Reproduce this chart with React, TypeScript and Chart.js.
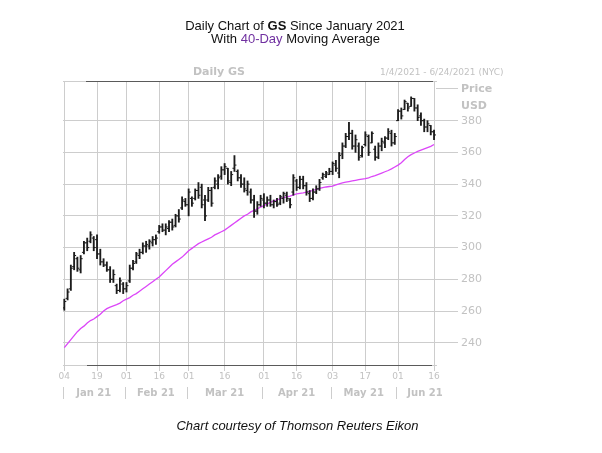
import React, { useEffect, useRef } from "react";
import { Chart, registerables } from "chart.js";

Chart.register(...registerables);

// ---- data (trading-day index 0 = 4 Jan 2021) ----
const OPEN = [262,268,274,288,293,286,297,303,304,306,305,296,291,289,286,280,276,273,277,274,279,287,291,295,297,301,301,303,305,310,313,311,312,316,314,320,325,329,327,331,331,336,338,330,330,336,338,340,345,349,350,341,350,348,344,340,336,335,330,323,327,330,328,330,327,329,328,331,333,330,335,342,338,343,339,334,331,335,337,344,345,346,348,352,347,359,364,370,372,364,364,358,365,370,366,362,357,364,366,369,372,366,380,386,387,391,389,394,388,383,380,376,377,373];
const HIGH = [267.5,274,289,297,294,295,304,306,310,307,308,299,293,291,288,286,277,281,278,278,289,292,297,299,303,304,305,307,308,314,315,315,317,318,321,324,332,331,337,332,337,341,340,333,338,338,344,346,351,353,350,348,358,349,346,344,342,337,333,329,333,334,332,333,330,331,333,335,335,331,346,343,345,345,341,336,337,339,343,347,348,350,354,355,360,366,372,379,374,371,366,364,373,371,373,364,366,369,370,375,374,372,387,388,393,391,395,394,390,385,381,380,377,374];
const LOW = [260.5,267,273,286,285,284,296,298,303,298,293,289,288,285,278,278,271,272,271,272,278,286,290,293,296,297,299,301,302,309,310,308,310,311,313,316,324,326,320,326,330,331,325,317,329,326,337,337,343,346,340,339,348,342,338,335,333,328,319,321,326,325,326,326,325,326,327,328,329,325,333,336,337,337,333,329,330,334,336,343,344,346,346,348,344,356,363,368,362,360,355,357,364,358,366,355,356,361,363,368,364,365,380,381,387,386,389,386,380,377,373,373,371,368];
const CLOSE = [266,272,287,295,287,293,303,300,308,300,296,291,289,286,280,283,273,279,274,276,287,290,296,297,301,302,304,305,306,313,311,313,316,313,320,318,330,327,335,328,336,333,327,320,336,328,342,344,349,351,342,346,352,344,340,337,340,330,323,327,331,328,330,327,329,327,332,334,331,327,344,338,343,339,335,331,335,337,341,346,347,348,353,350,358,364,370,372,364,368,357,363,371,360,372,357,364,367,369,373,366,370,386,383,392,388,394,388,382,380,376,378,373,371];
const MA40 = [237,239.5,242,244.5,247,249,250.5,252.5,254,255,256.5,258,260,261.5,262.5,263.3,264,265,266.5,267.5,268.5,270,271,272.5,274,275.5,277,278.5,280,281.5,283.5,285.5,287.5,289.5,291,292.5,294,296,298,299.5,301,302.5,303.5,304.5,305.5,306.5,308,309,310,311,312.5,314,315.5,317,318.5,320,321,322.5,323.5,324.5,325.5,326.5,327.5,328.5,329.5,330,330.8,331.5,332,332.5,333.2,333.8,334.2,334.5,335,335.5,336,336.7,337.3,337.8,338.2,338.5,338.8,339.5,340.2,340.8,341.2,341.6,342,342.4,342.8,343.2,343.5,344,344.8,345.4,346.2,347,347.8,348.6,349.6,350.8,352,353.5,355.5,357.3,358.6,359.6,360.6,361.4,362.2,363,363.8,365];

const X_TICK_IDX = [0, 10, 19, 29, 38, 49, 61, 71, 82, 92, 102, 113];
const X_TICK_LABELS = ["04", "19", "01", "16", "01", "16", "01", "16", "03", "17", "01", "16"];
const MONTH_LABELS = ["Jan 21", "Feb 21", "Mar 21", "Apr 21", "May 21", "Jun 21"];
const MONTH_START_IDX = [0, 19, 38, 61, 82, 102, 121];
const Y_TICKS = [240, 260, 280, 300, 320, 340, 360, 380, 400];

const GRID = "#cdcdcd";
const LABEL = "#c2c2c2";
const DARK = "#5a5a5a";
const BAR = "#1c1c1c";
const MA_COLOR = "#dc46f8";
const SANS = '"DejaVu Sans"';
const ARIAL = '"Liberation Sans", Arial';

function drawRuns(ctx: CanvasRenderingContext2D, runs: { t: string; font: string; color: string }[], cx: number, y: number) {
  let total = 0;
  for (const r of runs) { ctx.font = r.font; total += ctx.measureText(r.t).width; }
  let x = cx - total / 2;
  ctx.textAlign = "left";
  ctx.textBaseline = "alphabetic";
  for (const r of runs) {
    ctx.font = r.font; ctx.fillStyle = r.color;
    ctx.fillText(r.t, x, y);
    x += ctx.measureText(r.t).width;
  }
}

const decor = {
  id: "decor",
  afterDraw(chart: any) {
    const { ctx, chartArea: a, scales } = chart;
    const x = scales.x;
    ctx.save();
    ctx.lineWidth = 1;
    ctx.strokeStyle = GRID;
    ctx.beginPath();
    ctx.moveTo(a.left, Math.round(a.top) + 0.5); ctx.lineTo(a.right + 1, Math.round(a.top) + 0.5);
    ctx.moveTo(a.left, Math.round(a.bottom) + 0.5); ctx.lineTo(a.right + 1, Math.round(a.bottom) + 0.5);
    ctx.stroke();
    ctx.strokeStyle = DARK;
    ctx.beginPath();
    ctx.moveTo(86, Math.round(a.top) + 0.5); ctx.lineTo(433, Math.round(a.top) + 0.5);
    ctx.moveTo(87, Math.round(a.bottom) + 0.5); ctx.lineTo(432, Math.round(a.bottom) + 0.5);
    ctx.stroke();

    // header
    ctx.fillStyle = LABEL;
    ctx.textBaseline = "alphabetic";
    ctx.textAlign = "center";
    ctx.font = `bold 11px ${SANS}`;
    ctx.fillText("Daily GS", 219, 75);
    ctx.textAlign = "left";
    ctx.font = `9px ${SANS}`;
    ctx.fillText("1/4/2021 - 6/24/2021 (NYC)", 380, 75);
    ctx.font = `bold 11px ${SANS}`;
    ctx.textBaseline = "middle";
    ctx.fillText("USD", 461, 106);

    // month labels + separators
    ctx.strokeStyle = GRID;
    ctx.fillStyle = LABEL;
    ctx.font = `bold 10px ${SANS}`;
    ctx.textAlign = "center";
    ctx.textBaseline = "middle";
    for (let m = 0; m < MONTH_LABELS.length; m++) {
      const x0 = x.getPixelForValue(MONTH_START_IDX[m] - 0.5);
      const x1 = x.getPixelForValue(MONTH_START_IDX[m + 1] - 0.5);
      const sx = Math.round(x0) + 0.5;
      ctx.beginPath(); ctx.moveTo(sx, 387); ctx.lineTo(sx, 399); ctx.stroke();
      ctx.fillText(MONTH_LABELS[m], Math.min((x0 + x1) / 2, 425), 393);
    }

    // titles
    drawRuns(ctx, [
      { t: "Daily Chart of ", font: `13px ${ARIAL}`, color: "#111" },
      { t: "GS", font: `bold 13px ${ARIAL}`, color: "#111" },
      { t: " Since January 2021", font: `13px ${ARIAL}`, color: "#111" },
    ], 295, 30);
    drawRuns(ctx, [
      { t: "With ", font: `13px ${ARIAL}`, color: "#111" },
      { t: "40-Day", font: `13px ${ARIAL}`, color: "#7030a0" },
      { t: " Moving Average", font: `13px ${ARIAL}`, color: "#111" },
    ], 295.5, 43);
    drawRuns(ctx, [
      { t: "Chart courtesy of Thomson Reuters Eikon", font: `italic 13px ${ARIAL}`, color: "#111" },
    ], 297.5, 429.5);
    ctx.restore();
  },
};

export default function App() {
  const ref = useRef<HTMLCanvasElement | null>(null);
  useEffect(() => {
    if (!ref.current) return;
    const idx = OPEN.map((_, i) => i);
    const chart = new Chart(ref.current, {
      type: "bar",
      data: {
        datasets: [
          {
            type: "line",
            data: idx.map((i) => ({ x: i, y: MA40[i] })),
            borderColor: MA_COLOR,
            borderWidth: 1.3,
            pointRadius: 0,
            tension: 0,
            order: 5,
          } as any,
          {
            type: "bar",
            data: idx.map((i) => ({ x: i, y: [LOW[i], HIGH[i]] })),
            backgroundColor: BAR,
            borderWidth: 0,
            barThickness: 1.2,
            grouped: false,
            order: 2,
          } as any,
          {
            type: "scatter",
            data: idx.map((i) => ({ x: i, y: OPEN[i] })),
            pointStyle: "dash",
            pointRadius: 2,
            pointRotation: 180,
            pointBorderColor: BAR,
            pointBackgroundColor: BAR,
            pointBorderWidth: 1,
            order: 1,
          } as any,
          {
            type: "scatter",
            data: idx.map((i) => ({ x: i, y: CLOSE[i] })),
            pointStyle: "dash",
            pointRadius: 2,
            pointRotation: 0,
            pointBorderColor: BAR,
            pointBackgroundColor: BAR,
            pointBorderWidth: 1,
            order: 1,
          } as any,
        ],
      },
      options: {
        responsive: false,
        animation: false,
        events: [],
        layout: { padding: { left: 63, top: 81, right: 0, bottom: 0 } },
        plugins: { legend: { display: false }, tooltip: { enabled: false }, title: { display: false } },
        scales: {
          x: {
            type: "linear",
            position: "bottom",
            offset: false,
            min: -0.4,
            max: 113.6,
            afterBuildTicks: (s: any) => { s.ticks = X_TICK_IDX.map((v) => ({ value: v })); },
            afterFit: (s: any) => { s.height = 88; },
            grid: { offset: false, color: GRID, lineWidth: 1, tickLength: 6, drawTicks: true },
            border: { display: false },
            ticks: {
              autoSkip: false,
              maxRotation: 0,
              minRotation: 0,
              padding: 0,
              color: LABEL,
              font: { family: "DejaVu Sans", size: 9 },
              callback: (_v: any, i: number) => X_TICK_LABELS[i],
            },
          },
          y: {
            type: "linear",
            position: "right",
            min: 226,
            max: 405,
            afterBuildTicks: (s: any) => { s.ticks = Y_TICKS.map((v) => ({ value: v })); },
            afterFit: (s: any) => { s.width = 166; },
            grid: {
              color: (c: any) => (c.tick && c.tick.value === 400 ? "rgba(0,0,0,0)" : GRID),
              tickColor: GRID,
              lineWidth: 1,
              tickLength: 22,
            },
            border: { display: false },
            ticks: {
              padding: 3,
              color: LABEL,
              font: (c: any) => ({ family: "DejaVu Sans", size: 11, weight: c.tick && c.tick.value === 400 ? "bold" : "normal" }),
              callback: (v: any) => (v === 400 ? "Price" : String(v)),
            },
          },
        },
      },
      plugins: [decor],
    } as any);
    return () => chart.destroy();
  }, []);

  return (
    <div style={{ position: "absolute", left: 0, top: 0, width: 602, height: 453, background: "#fff" }}>
      <canvas ref={ref} width={602} height={453} style={{ display: "block", width: 602, height: 453 }} />
    </div>
  );
}
